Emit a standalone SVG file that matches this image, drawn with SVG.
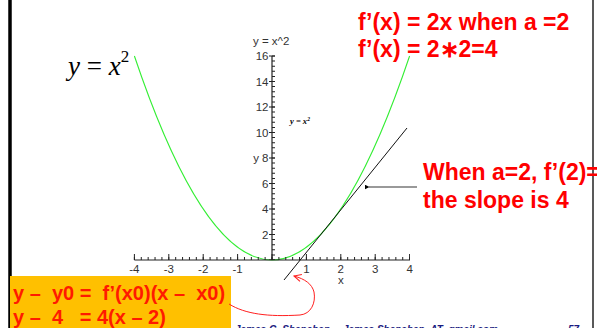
<svg xmlns="http://www.w3.org/2000/svg" width="597" height="328" viewBox="0 0 597 328">
<defs>
<style>
.red{font-family:"Liberation Sans",Arial,sans-serif;font-weight:bold;fill:#ff0000;font-size:23px}
.box{font-family:"Liberation Sans",Arial,sans-serif;font-weight:bold;fill:#ff1a00;font-size:20px;white-space:pre}
.ax{font-family:"Liberation Sans",Arial,sans-serif;font-size:11.5px;fill:#333}
.foot{font-family:"Liberation Sans",Arial,sans-serif;font-size:10px;font-weight:bold;font-style:italic;fill:#1a1a80}
</style>
<marker id="ahBlack" viewBox="0 0 10 10" refX="1" refY="5" markerWidth="5" markerHeight="5" orient="auto-start-reverse" markerUnits="userSpaceOnUse">
<path d="M10,0 L0,5 L10,10 Z" fill="#000"/>
</marker>
<marker id="ahRed" viewBox="0 0 10 10" refX="9" refY="5" markerWidth="9" markerHeight="9" orient="auto" markerUnits="userSpaceOnUse">
<path d="M1,1 L9,5 L1,9" fill="none" stroke="#ff2020" stroke-width="1.2"/>
</marker>
</defs>
<rect width="597" height="328" fill="#fff"/>
<g id="borders">
<line x1="10" y1="0" x2="10" y2="328" stroke="#000" stroke-width="3.5"/>
<line x1="593" y1="0" x2="593" y2="328" stroke="#222" stroke-width="1.5"/>
</g>
<g id="plot">
<text class="ax" x="253" y="45" font-size="11">y = x^2</text>
<path d="M134.4,56 Q272,464 409.6,56" fill="none" stroke="#33ee33" stroke-width="1.1"/>
<g stroke="#222" fill="none">
<line x1="134.4" y1="260" x2="410" y2="260" stroke-width="1.2"/>
<line x1="272" y1="56" x2="272" y2="260" stroke-width="1.2"/>
<line x1="133.9" y1="258.5" x2="410" y2="258.5" stroke-width="3" stroke-dasharray="1 5.88"/>
<line x1="133.9" y1="257" x2="410" y2="257" stroke-width="6" stroke-dasharray="1 33.4"/>
<line x1="273.5" y1="55.5" x2="273.5" y2="260" stroke-width="3" stroke-dasharray="1 4.1"/>
<line x1="272" y1="55.5" x2="272" y2="260" stroke-width="6" stroke-dasharray="1 24.5"/>
</g>
<g class="ax" text-anchor="middle">
<text x="134.4" y="273">-4</text>
<text x="168.8" y="273">-3</text>
<text x="203.2" y="273">-2</text>
<text x="237.6" y="273">-1</text>
<text x="306.4" y="273">1</text>
<text x="340.8" y="273">2</text>
<text x="375.2" y="273">3</text>
<text x="409.6" y="273">4</text>
<text x="340.8" y="284">x</text>
</g>
<g class="ax" text-anchor="end">
<text x="268.5" y="60">16</text>
<text x="268.5" y="85.5">14</text>
<text x="268.5" y="111">12</text>
<text x="268.5" y="136.5">10</text>
<text x="268.5" y="162">8</text>
<text x="268.5" y="187.5">6</text>
<text x="268.5" y="213">4</text>
<text x="268.5" y="238.5">2</text>
<text x="259" y="162">y</text>
</g>
<text x="290" y="124" font-family="Liberation Serif,serif" font-size="8.5" font-weight="bold" font-style="italic">y = x<tspan font-size="5.5" dy="-3.5">2</tspan></text>
<line x1="284" y1="280" x2="407" y2="128" stroke="#111" stroke-width="1"/>
</g>
<g id="title-eq">
<text x="68" y="75" font-family="Liberation Serif,serif" font-size="27"><tspan font-style="italic">y</tspan> = <tspan font-style="italic">x</tspan><tspan font-size="17" dy="-13">2</tspan></text>
</g>
<g id="derivative">
<text class="red" x="358" y="30">f’(x) = 2x when a =2</text>
<text class="red" x="358" y="57">f’(x) = 2∗2=4</text>
</g>
<g id="slope-note">
<text class="red" x="423" y="180">When a=2, f’(2)=</text>
<text class="red" x="423" y="208">the slope is 4</text>
</g>
<g id="tangent-eq">
<rect x="10" y="276" width="221" height="52" fill="#ffc000"/>
<text class="box" x="13" y="300">y –  y0 =  f’(x0)(x –  x0)</text>
<text class="box" x="13" y="324">y –  4   = 4(x – 2)</text>
</g>
<g id="connectors">
<line x1="417" y1="187" x2="369" y2="187" stroke="#999" stroke-width="2" marker-end="url(#ahBlack)"/>
<path d="M229,304 C245,314 268,317 300,315 C311,314 316,303 314,292 C312,284 305,279 294,276" fill="none" stroke="#ff2020" stroke-width="1" marker-end="url(#ahRed)"/>
</g>
<g id="footer">
<text class="foot" x="235" y="333">James G. Shanahan</text>
<text class="foot" x="343" y="333">James.Shanahan_AT_gmail.com</text>
<text class="foot" x="568" y="333">57</text>
</g>
</svg>
